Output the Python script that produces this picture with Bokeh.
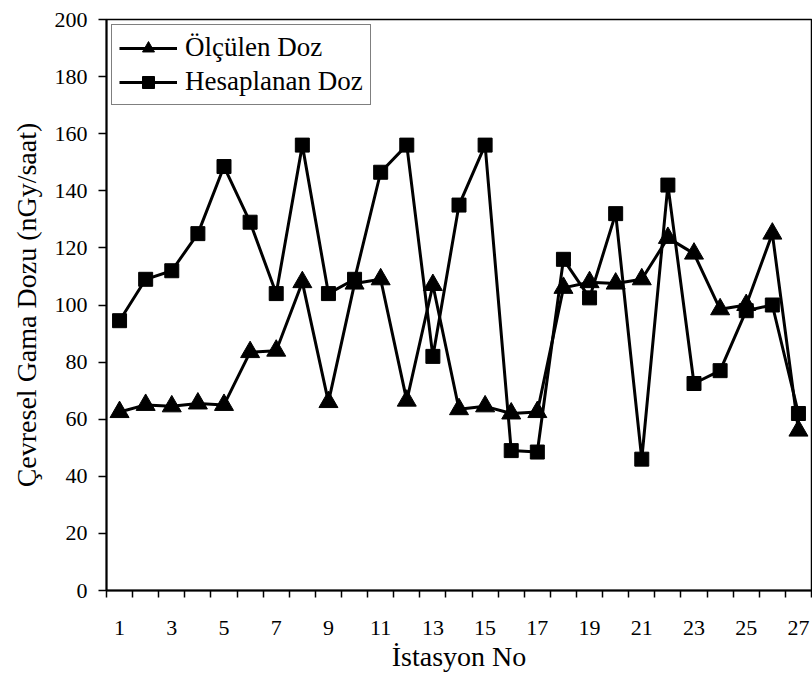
from bokeh.plotting import figure
from bokeh.models import Range1d, FixedTicker, Legend, LegendItem
from bokeh.embed import file_html
from bokeh.resources import INLINE

stations = list(range(1, 28))
olculen = [62.5, 65, 64.5, 65.5, 65, 83.5, 84, 108, 66, 107.5, 109, 66.5, 107, 63.5, 64.5, 62, 62.5,
           106, 108, 107.5, 109, 123.5, 118, 98.5, 100, 125, 56]
hesaplanan = [94.5, 109, 112, 125, 148.5, 129, 104, 156, 104, 109, 146.5, 156, 82, 135, 156, 49, 48.5,
              116, 102.5, 132, 46, 142, 72.5, 77, 98, 100, 62]
x_labels = list(range(1, 28, 2))
y_ticks = list(range(0, 201, 20))

FONT = "'Liberation Serif', serif"

p = figure(width=812, height=678, output_backend="svg", toolbar_location=None,
           x_range=Range1d(0.5, 27.5), y_range=Range1d(0, 200),
           min_border_left=106, min_border_right=1, min_border_top=19, min_border_bottom=88)

p.background_fill_color = "white"
p.border_fill_color = "white"
p.outline_line_color = "black"
p.outline_line_width = 1.5
p.xgrid.visible = False
p.ygrid.visible = False

l1 = p.line(stations, olculen, line_color="black", line_width=3)
s1 = p.scatter(stations, olculen, marker="triangle", size=19, fill_color="black", line_color="black")
l2 = p.line(stations, hesaplanan, line_color="black", line_width=3)
s2 = p.scatter(stations, hesaplanan, marker="square", size=14, fill_color="black", line_color="black")

legend = Legend(items=[LegendItem(label="Ölçülen Doz", renderers=[l1, s1]),
                       LegendItem(label="Hesaplanan Doz", renderers=[l2, s2])],
                location="top_left", margin=5)
legend.label_text_font = FONT
legend.label_text_font_size = "27px"
legend.label_text_color = "black"
legend.glyph_width = 58
legend.glyph_height = 30
legend.label_standoff = 8
legend.padding = 7
legend.spacing = 3
legend.border_line_color = "black"
legend.border_line_width = 1.5
legend.background_fill_alpha = 1
p.add_layout(legend)

xa = p.xaxis[0]
xa.ticker = FixedTicker(ticks=x_labels, minor_ticks=[i + 0.5 for i in range(0, 28)])
xa.major_tick_out = 0
xa.major_tick_in = 0
xa.minor_tick_out = 7
xa.minor_tick_in = 0
xa.minor_tick_line_color = "black"
xa.minor_tick_line_width = 1.5
xa.major_label_standoff = 23
xa.axis_label = "İstasyon No"
xa.axis_label_standoff = 3

ya = p.yaxis[0]
ya.ticker = FixedTicker(ticks=y_ticks)
ya.major_tick_out = 8
ya.major_tick_in = 0
ya.minor_tick_out = 0
ya.minor_tick_in = 0
ya.major_label_standoff = 11
ya.axis_label = "Çevresel Gama Dozu (nGy/saat)"
ya.axis_label_standoff = 10

for ax in (xa, ya):
    ax.axis_line_color = "black"
    ax.axis_line_width = 2
    ax.major_tick_line_color = "black"
    ax.major_tick_line_width = 1.5
    ax.major_label_text_font = FONT
    ax.major_label_text_font_size = "22px"
    ax.major_label_text_color = "black"
    ax.axis_label_text_font = FONT
    ax.axis_label_text_font_size = "28px"
    ax.axis_label_text_font_style = "normal"
    ax.axis_label_text_color = "black"

open("out.html", "w").write(file_html(p, INLINE))
